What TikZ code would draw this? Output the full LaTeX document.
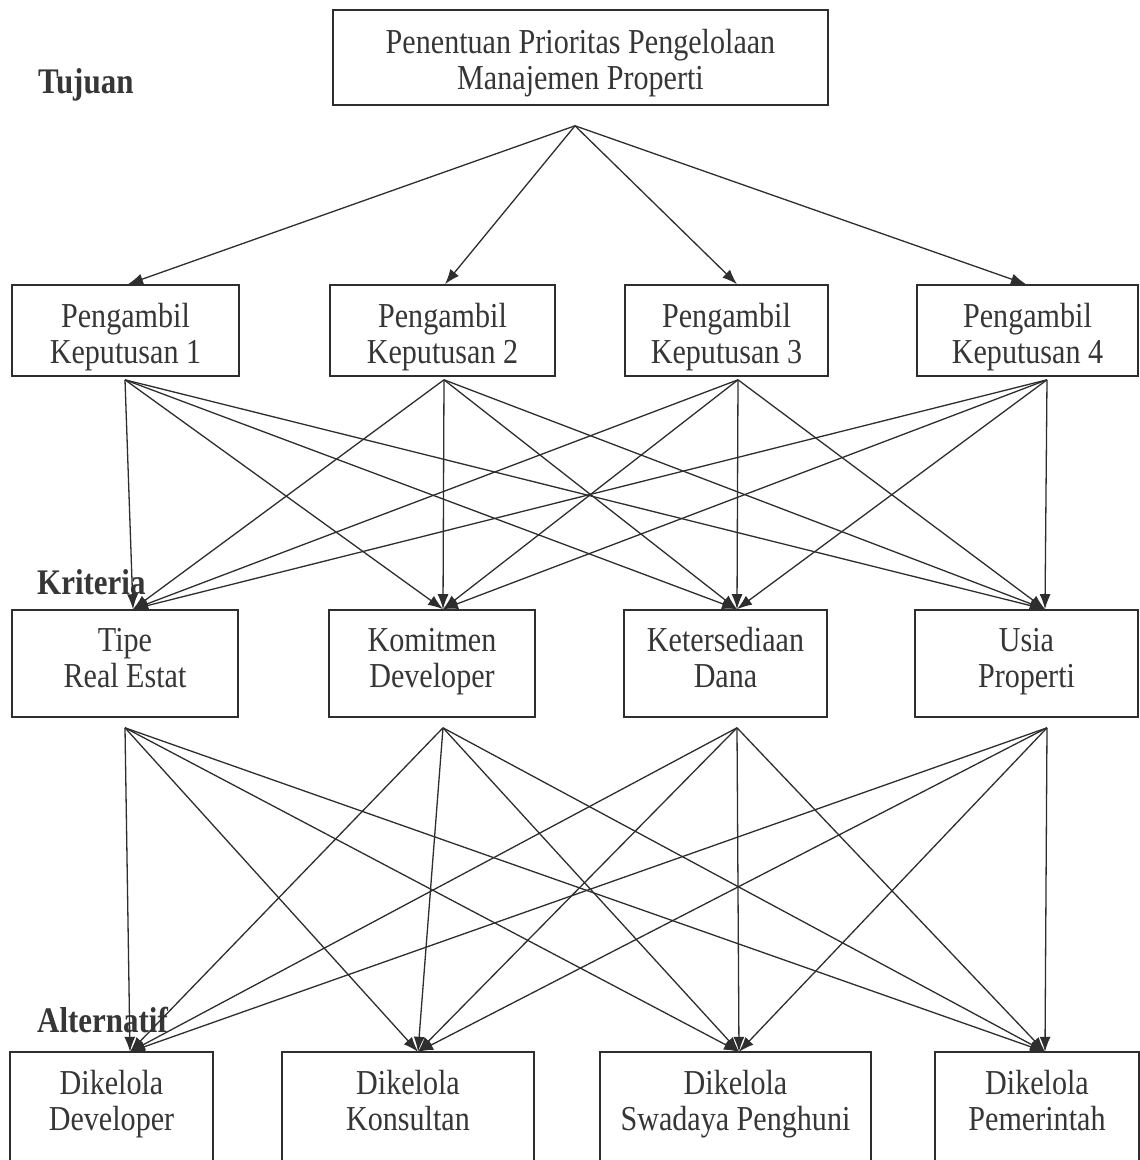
\documentclass[tikz,border=0pt]{standalone}
\usepackage{fontspec}
\setmainfont{Liberation Serif}[FakeStretch=0.86]
\usetikzlibrary{arrows.meta}
\definecolor{ink}{HTML}{2E2E2E}
\definecolor{txt}{HTML}{363636}
% two lines of text, shifted down by #3 pt from the centred position
\newcommand\twol[3]{\rule{0pt}{\dimexpr25.2pt+#3pt\relax}\smash{#1}\\\smash{#2}\rule[\dimexpr-10.8pt+#3pt\relax]{0pt}{\dimexpr10.8pt-#3pt\relax}}
\begin{document}
\begin{tikzpicture}[x=1pt,y=-1pt,
  box/.style={draw=ink, line width=1.6pt, inner sep=0pt, align=center,
    font=\fontsize{35}{36}\selectfont, text=txt},
  altbox/.style={draw=none, inner sep=0pt, align=center,
    font=\fontsize{35}{36}\selectfont, text=txt},
  frame/.style={draw=ink, line width=1.6pt},
  lab/.style={font=\fontsize{36}{40}\selectfont\bfseries, text=txt, anchor=west, inner sep=0pt},
  conn/.style={draw=ink, line width=1.3pt, -{Latex[length=15pt,width=11pt]}}]
\useasboundingbox (0,0) rectangle (1140,1160);
\fill[white] (0,0) rectangle (1140,1160);
\clip (0,0) rectangle (1140,1160);

% labels
\node[lab] (ltuj) at (38,85) {Tujuan};
\node[lab] (lkri) at (37,582) {Kriteria};
\node[lab] (lalt) at (37,1020) {Alternatif};

% goal
\node[box, minimum width=495pt, minimum height=95pt] (goal) at (580.5,57.5)
  {\twol{Penentuan Prioritas Pengelolaan}{Manajemen Properti}{6.5}};

% decision makers
\node[box, minimum width=227pt, minimum height=91pt] (pk1) at (125.5,330.5) {\twol{Pengambil}{Keputusan 1}{8}};
\node[box, minimum width=225pt, minimum height=91pt] (pk2) at (442.5,330.5) {\twol{Pengambil}{Keputusan 2}{8}};
\node[box, minimum width=203pt, minimum height=91pt] (pk3) at (726.5,330.5) {\twol{Pengambil}{Keputusan 3}{8}};
\node[box, minimum width=221pt, minimum height=91pt] (pk4) at (1027.5,330.5) {\twol{Pengambil}{Keputusan 4}{8}};

% criteria
\node[box, minimum width=226pt, minimum height=107pt] (k1) at (125,663.5) {\twol{Tipe}{Real Estat}{-1}};
\node[box, minimum width=206pt, minimum height=107pt] (k2) at (432,663.5) {\twol{Komitmen}{Developer}{-1}};
\node[box, minimum width=203pt, minimum height=107pt] (k3) at (725.5,663.5) {\twol{Ketersediaan}{Dana}{-1}};
\node[box, minimum width=223pt, minimum height=107pt] (k4) at (1026.5,663.5) {\twol{Usia}{Properti}{-1}};

% alternatives
\node[altbox, minimum width=203pt, minimum height=96pt] (a1) at (111.5,1100) {\twol{Dikelola}{Developer}{5}};
\node[altbox, minimum width=252pt, minimum height=96pt] (a2) at (408,1100) {\twol{Dikelola}{Konsultan}{5}};
\node[altbox, minimum width=271pt, minimum height=96pt] (a3) at (735.5,1100) {\twol{Dikelola}{Swadaya Penghuni}{5}};
\node[altbox, minimum width=204pt, minimum height=96pt] (a4) at (1037,1100) {\twol{Dikelola}{Pemerintah}{5}};
\foreach \a in {a1,a2,a3,a4}{
  \draw[frame] (\a.north west) rectangle ([yshift=-40pt]\a.south east);
}

% connector points
\coordinate (apex) at ([xshift=-5.5pt,yshift=-20pt]goal.south);
\coordinate (p1i) at ([xshift=2.5pt]pk1.north);
\coordinate (p2i) at ([xshift=2.5pt]pk2.north);
\coordinate (p3i) at ([xshift=10.5pt]pk3.north);
\coordinate (p4i) at ([xshift=-1.5pt]pk4.north);
\coordinate (p1o) at ([xshift=-0.5pt,yshift=-3pt]pk1.south);
\coordinate (p2o) at ([xshift=1.5pt,yshift=-3pt]pk2.south);
\coordinate (p3o) at ([xshift=11.5pt,yshift=-3pt]pk3.south);
\coordinate (p4o) at ([xshift=19.5pt,yshift=-3pt]pk4.south);
\coordinate (k1i) at ([xshift=8pt]k1.north);
\coordinate (k2i) at ([xshift=11pt]k2.north);
\coordinate (k3i) at ([xshift=11.5pt]k3.north);
\coordinate (k4i) at ([xshift=18.5pt]k4.north);
\coordinate (k1o) at ([yshift=-10pt]k1.south);
\coordinate (k2o) at ([xshift=11pt,yshift=-10pt]k2.south);
\coordinate (k3o) at ([xshift=11.5pt,yshift=-10pt]k3.south);
\coordinate (k4o) at ([xshift=20.5pt,yshift=-10pt]k4.south);
\coordinate (a1i) at ([xshift=18.5pt]a1.north);
\coordinate (a2i) at ([xshift=10pt]a2.north);
\coordinate (a3i) at ([xshift=3.5pt]a3.north);
\coordinate (a4i) at ([xshift=8pt]a4.north);

% connectors
\foreach \i in {1,2,3,4}{
  \draw[conn] (apex) -- (p\i i);
}
\foreach \i in {1,2,3,4}{
  \foreach \j in {1,2,3,4}{
    \draw[conn] (p\i o) -- (k\j i);
    \draw[conn] (k\i o) -- (a\j i);
  }
}
\end{tikzpicture}
\end{document}
